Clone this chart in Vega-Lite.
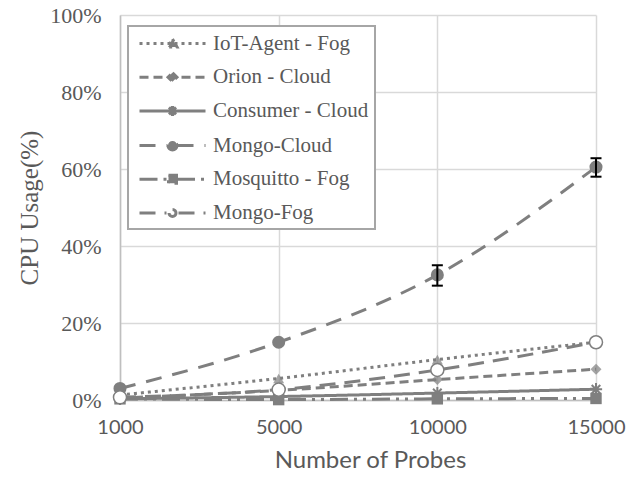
{
  "$schema": "https://vega.github.io/schema/vega-lite/v6.json",
  "width": 476,
  "height": 385,
  "autosize": {"type": "none"},
  "padding": {"left": 120, "top": 15, "right": 43, "bottom": 79},
  "background": "white",
  "datasets": {
    "series": [
      {"series": "IoT-Agent - Fog", "probes": "1000", "cpu": 0.013},
      {"series": "IoT-Agent - Fog", "probes": "5000", "cpu": 0.056},
      {"series": "IoT-Agent - Fog", "probes": "10000", "cpu": 0.105},
      {"series": "IoT-Agent - Fog", "probes": "15000", "cpu": 0.15},
      {"series": "Orion - Cloud", "probes": "1000", "cpu": 0.005},
      {"series": "Orion - Cloud", "probes": "5000", "cpu": 0.025},
      {"series": "Orion - Cloud", "probes": "10000", "cpu": 0.053},
      {"series": "Orion - Cloud", "probes": "15000", "cpu": 0.08},
      {"series": "Consumer - Cloud", "probes": "1000", "cpu": 0.003},
      {"series": "Consumer - Cloud", "probes": "5000", "cpu": 0.009},
      {"series": "Consumer - Cloud", "probes": "10000", "cpu": 0.018},
      {"series": "Consumer - Cloud", "probes": "15000", "cpu": 0.028},
      {"series": "Mongo-Cloud", "probes": "1000", "cpu": 0.03},
      {"series": "Mongo-Cloud", "probes": "5000", "cpu": 0.15},
      {"series": "Mongo-Cloud", "probes": "10000", "cpu": 0.325},
      {"series": "Mongo-Cloud", "probes": "15000", "cpu": 0.605},
      {"series": "Mosquitto - Fog", "probes": "1000", "cpu": 0.003},
      {"series": "Mosquitto - Fog", "probes": "5000", "cpu": 0.001},
      {"series": "Mosquitto - Fog", "probes": "10000", "cpu": 0.003},
      {"series": "Mosquitto - Fog", "probes": "15000", "cpu": 0.004},
      {"series": "Mongo-Fog", "probes": "1000", "cpu": 0.007},
      {"series": "Mongo-Fog", "probes": "5000", "cpu": 0.027},
      {"series": "Mongo-Fog", "probes": "10000", "cpu": 0.078},
      {"series": "Mongo-Fog", "probes": "15000", "cpu": 0.15}
    ],
    "errors": [
      {"series": "Mongo-Cloud", "probes": "10000", "lo": 0.297, "hi": 0.35},
      {"series": "Mongo-Cloud", "probes": "15000", "lo": 0.58, "hi": 0.628}
    ]
  },
  "data": {"name": "series"},
  "encoding": {
    "x": {
      "field": "probes", "type": "ordinal", "sort": ["1000", "5000", "10000", "15000"],
      "scale": {"type": "point", "padding": 0},
      "axis": {
        "title": "Number of Probes", "labelAngle": 0, "grid": true, "ticks": false,
        "labelPadding": 17, "titlePadding": 11, "titleX": 250,
        "labelFont": "Lato", "labelFontSize": 20, "labelColor": "#595959",
        "titleFont": "Lato", "titleFontSize": 24, "titleFontWeight": "normal", "titleColor": "#595959"
      }
    }
  },
  "layer": [
    {
      "mark": {"type": "line", "interpolate": "monotone", "strokeWidth": 3, "color": "#7f7f7f"},
      "encoding": {
        "y": {
          "field": "cpu", "type": "quantitative",
          "scale": {"domain": [0, 1], "nice": false},
          "axis": {
            "title": "CPU Usage(%)", "values": [0, 0.2, 0.4, 0.6, 0.8, 1], "format": ".0%",
            "grid": true, "ticks": false, "labelPadding": 19, "titlePadding": 7,
            "labelFont": "Liberation Serif", "labelFontSize": 22, "labelColor": "#595959",
            "titleFont": "Liberation Serif", "titleFontSize": 25, "titleFontWeight": "normal", "titleColor": "#595959"
          }
        },
        "detail": {"field": "series"},
        "strokeDash": {
          "field": "series", "type": "nominal",
          "scale": {
            "domain": ["IoT-Agent - Fog", "Orion - Cloud", "Consumer - Cloud", "Mongo-Cloud", "Mosquitto - Fog", "Mongo-Fog"],
            "range": [[3, 4], [9, 5], [1, 0], [16, 11], [18, 6, 3, 6, 3, 6], [16, 9]]
          },
          "legend": {"title": null, "orient": "none", "legendX": 8, "legendY": 11,
            "encode": {"symbols": {"update": {"stroke": {"value": "#7f7f7f"}, "strokeWidth": {"value": 3}, "opacity": {"value": 1}}}}}
        }
      }
    },
    {
      "transform": [{"filter": "datum.series === 'IoT-Agent - Fog'"}],
      "mark": {"type": "point", "shape": "triangle-up", "filled": true, "color": "#7f7f7f", "size": 120},
      "encoding": {"y": {"field": "cpu", "type": "quantitative"}}
    },
    {
      "transform": [{"filter": "datum.series === 'Orion - Cloud'"}],
      "mark": {"type": "point", "shape": "diamond", "filled": true, "color": "#7f7f7f", "size": 120},
      "encoding": {"y": {"field": "cpu", "type": "quantitative"}}
    },
    {
      "transform": [{"filter": "datum.series === 'Consumer - Cloud'"}],
      "mark": {"type": "point", "shape": "M-1,0L1,0M0,-1L0,1M-0.7,-0.7L0.7,0.7M-0.7,0.7L0.7,-0.7", "filled": false, "stroke": "#7f7f7f", "strokeWidth": 2, "size": 150, "opacity": 1},
      "encoding": {"y": {"field": "cpu", "type": "quantitative"}}
    },
    {
      "transform": [{"filter": "datum.series === 'Mongo-Cloud'"}],
      "mark": {"type": "point", "shape": "circle", "filled": true, "color": "#7f7f7f", "size": 170, "opacity": 1},
      "encoding": {"y": {"field": "cpu", "type": "quantitative"}}
    },
    {
      "transform": [{"filter": "datum.series === 'Mosquitto - Fog'"}],
      "mark": {"type": "point", "shape": "square", "filled": true, "color": "#7f7f7f", "size": 130, "opacity": 1},
      "encoding": {"y": {"field": "cpu", "type": "quantitative"}}
    },
    {
      "transform": [{"filter": "datum.series === 'Mongo-Fog'"}],
      "mark": {"type": "point", "shape": "circle", "filled": true, "fill": "white", "stroke": "#7f7f7f", "strokeWidth": 1.5, "size": 170, "opacity": 1},
      "encoding": {"y": {"field": "cpu", "type": "quantitative"}}
    },
    {
      "data": {"name": "errors"},
      "mark": {"type": "rule", "color": "black", "strokeWidth": 2},
      "encoding": {"y": {"field": "lo", "type": "quantitative"}, "y2": {"field": "hi"}}
    },
    {
      "data": {"name": "errors"},
      "mark": {"type": "tick", "color": "black", "thickness": 2, "size": 11, "opacity": 1},
      "encoding": {"y": {"field": "lo", "type": "quantitative"}}
    },
    {
      "data": {"name": "errors"},
      "mark": {"type": "tick", "color": "black", "thickness": 2, "size": 11, "opacity": 1},
      "encoding": {"y": {"field": "hi", "type": "quantitative"}}
    },
    {
      "transform": [{"filter": "false"}],
      "mark": {"type": "point", "filled": true, "stroke": "#7f7f7f", "strokeWidth": 3},
      "encoding": {
        "y": {"field": "cpu", "type": "quantitative"},
        "shape": {
          "field": "series", "type": "nominal",
          "scale": {
            "domain": ["IoT-Agent - Fog", "Orion - Cloud", "Consumer - Cloud", "Mongo-Cloud", "Mosquitto - Fog", "Mongo-Fog"],
            "range": [
              "M-3.3,0L3.3,0M0,-0.45L0.45,0.35L-0.45,0.35Z",
              "M-3.3,0L3.3,0M0,-0.45L0.45,0L0,0.45L-0.45,0Z",
              "M-3.3,0L3.3,0M-0.5,0L0.5,0M0,-0.5L0,0.5M-0.35,-0.35L0.35,0.35M-0.35,0.35L0.35,-0.35",
              "M-3.3,0L-0.5,0M0.5,0L3.3,0M-0.45,0A0.45,0.45,0,1,0,0.45,0A0.45,0.45,0,1,0,-0.45,0Z",
              "M-3.3,0L-0.45,0M0.45,0L3.3,0M-0.4,-0.4L0.4,-0.4L0.4,0.4L-0.4,0.4Z",
              "M-3.3,0L-0.6,0M0.6,0L3.3,0M-0.35,0A0.35,0.35,0,1,0,0.35,0A0.35,0.35,0,1,0,-0.35,0Z"
            ]
          },
          "legend": {"title": null, "orient": "none", "legendX": 8, "legendY": 11,
            "encode": {"symbols": {"update": {"stroke": {"value": "#7f7f7f"}, "strokeWidth": {"value": 3}, "opacity": {"value": 1}}}}}
        },
        "fill": {
          "field": "series", "type": "nominal",
          "scale": {
            "domain": ["IoT-Agent - Fog", "Orion - Cloud", "Consumer - Cloud", "Mongo-Cloud", "Mosquitto - Fog", "Mongo-Fog"],
            "range": ["#7f7f7f", "#7f7f7f", "#7f7f7f", "#7f7f7f", "#7f7f7f", "white"]
          },
          "legend": {"title": null, "orient": "none", "legendX": 8, "legendY": 11,
            "encode": {"symbols": {"update": {"stroke": {"value": "#7f7f7f"}, "strokeWidth": {"value": 3}, "opacity": {"value": 1}}}}}
        }
      }
    }
  ],
  "config": {
    "view": {"stroke": null},
    "font": "Liberation Serif",
    "axis": {
      "gridColor": "#d9d9d9", "gridWidth": 1.5, "domainColor": "#bfbfbf", "domainWidth": 1.5
    },
    "legend": {
      "labelFont": "Liberation Serif", "labelFontSize": 21, "labelColor": "#595959", "labelLimit": 400,
      "symbolSize": 400, "symbolStrokeWidth": 3, "symbolStrokeColor": "#7f7f7f", "symbolOpacity": 1,
      "symbolOffset": 27, "labelOffset": 29, "rowPadding": 11.7, "padding": 6,
      "strokeColor": "#a6a6a6", "strokeWidth": 2, "fillColor": "white"
    }
  }
}
